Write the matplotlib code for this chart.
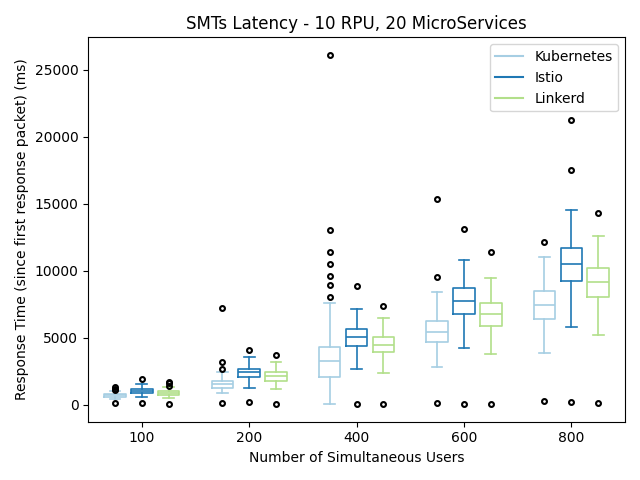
import matplotlib
matplotlib.use('Agg')
import matplotlib.pyplot as plt
from matplotlib.lines import Line2D

users = ['100', '200', '400', '600', '800']
services = ['Kubernetes', 'Istio', 'Linkerd']
colors = ['#a6cee3', '#1f78b4', '#b2df8a']

# box stats (ms)
k_med = [720, 1590, 3310, 5430, 7440]
k_q1 = [600, 1290, 2070, 4680, 6400]
k_q3 = [820, 1810, 4310, 6250, 8480]
k_lo = [420, 870, 50, 2810, 3860]
k_hi = [1040, 2490, 7590, 8410, 11020]
k_fl = [[150, 1100, 1200, 1300], [120, 2660, 3190, 7200],
        [8040, 8930, 9600, 10500, 11400, 13040, 26100], [120, 9530, 15350], [280, 12140]]

i_med = [1070, 2490, 5070, 7740, 10500]
i_q1 = [920, 2070, 4380, 6770, 9230]
i_q3 = [1190, 2710, 5650, 8680, 11690]
i_lo = [620, 1290, 2660, 4230, 5800]
i_hi = [1540, 3560, 7160, 10840, 14550]
i_fl = [[150, 1920], [220, 4080], [50, 8860], [50, 13110], [200, 17510, 21250]]

l_med = [920, 2160, 4450, 6770, 9160]
l_q1 = [770, 1810, 3930, 5920, 8040]
l_q3 = [1045, 2440, 5050, 7590, 10200]
l_lo = [500, 1170, 2370, 3780, 5200]
l_hi = [1320, 3190, 6470, 9450, 12590]
l_fl = [[50, 1400, 1600, 1700], [50, 3710], [50, 7370], [50, 11400], [120, 14310]]

series = [
    (k_med, k_q1, k_q3, k_lo, k_hi, k_fl),
    (i_med, i_q1, i_q3, i_lo, i_hi, i_fl),
    (l_med, l_q1, l_q3, l_lo, l_hi, l_fl),
]

fig, ax = plt.subplots(figsize=(6.4, 4.8), dpi=100)

offsets = [-0.25, 0.0, 0.25]
for s, (med, q1, q3, lo, hi, fl) in enumerate(series):
    stats = []
    for j in range(len(users)):
        stats.append(dict(med=med[j], q1=q1[j], q3=q3[j], whislo=lo[j],
                          whishi=hi[j], fliers=fl[j]))
    pos = [j + 1 + offsets[s] for j in range(len(users))]
    c = colors[s]
    ax.bxp(stats, positions=pos, widths=0.2, showfliers=True, manage_ticks=False,
           boxprops=dict(color=c, linewidth=1.2),
           medianprops=dict(color=c, linewidth=1.2),
           whiskerprops=dict(color=c, linewidth=1.2),
           capprops=dict(color=c, linewidth=1.2),
           flierprops=dict(marker='o', markerfacecolor='none', markeredgecolor='black',
                           markersize=3.5, markeredgewidth=1.5))

ax.set_xticks(range(1, len(users) + 1))
ax.set_xticklabels(users)
ax.set_xlim(0.5, 5.5)
ax.set_title('SMTs Latency - 10 RPU, 20 MicroServices')
ax.set_xlabel('Number of Simultaneous Users')
ax.set_ylabel('Response Time (since first response packet) (ms)')

handles = [Line2D([], [], color=c, linewidth=1.5) for c in colors]
ax.legend(handles, services, loc='upper right')

plt.tight_layout()
plt.savefig('out.png', dpi=100)
